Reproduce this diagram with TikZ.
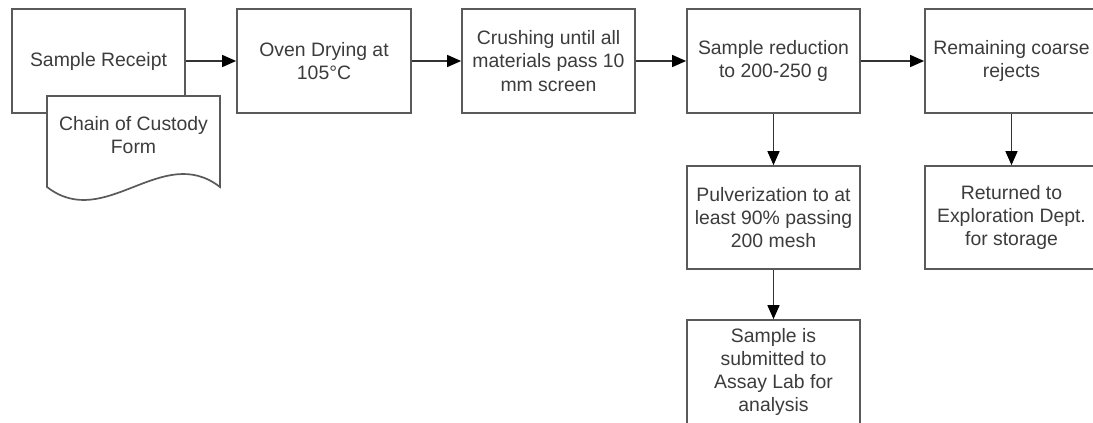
\documentclass[tikz,border=0pt]{standalone}
\usepackage{fontspec}
\setmainfont{Liberation Sans}
\usetikzlibrary{arrows.meta}
\definecolor{linec}{HTML}{5A5A5A}
\definecolor{connc}{HTML}{333333}
\definecolor{textc}{HTML}{3C3C3C}
\tikzset{
  procbox/.style={draw=linec, line width=1.7pt, fill=white, rectangle, inner sep=0pt,
    minimum width=173pt, minimum height=104pt, align=center, text=textc,
    font=\fontsize{19.4}{23.3}\selectfont},
  conn/.style={draw=connc, line width=1.5pt, -{Triangle[length=14pt,width=12pt,color=black]}},
  docshape/.style={draw=linec, line width=1.7pt, fill=white},
  doctext/.style={align=center, text=textc, inner sep=0pt, font=\fontsize{19.4}{23.3}\selectfont}
}
\begin{document}
\begin{tikzpicture}[x=1pt,y=-1pt]
\useasboundingbox (0,0) rectangle (1093,423);
\clip (0,0) rectangle (1093,423);
\node[procbox] (receipt) at (98.5,61) {Sample Receipt};
\node[procbox, minimum width=174pt] (oven) at (324,61) {Oven Drying at\\105°C};
\node[procbox] (crush) at (548.5,61) {Crushing until all\\materials pass 10\\mm screen};
\node[procbox] (reduce) at (773.5,61) {Sample reduction\\to 200-250 g};
\node[procbox] (remain) at (1011.5,61) {Remaining coarse\\rejects};
\node[procbox, minimum height=103pt] (pulv) at (773.5,217.5) {Pulverization to at\\least 90\% passing\\200 mesh};
\node[procbox, minimum height=103pt] (returned) at (1011.5,217.5) {Returned to\\Exploration Dept.\\for storage};
\node[procbox] (submit) at (773.5,372) {Sample is\\submitted to\\Assay Lab for\\analysis};
% document shape
\path[docshape] (47,96) -- (220,96) -- (220,187) .. controls (162,142) and (105,232) .. (47,187) -- cycle;
\node[doctext] (doc) at (133.5,135) {Chain of Custody\\Form};
% connectors
\draw[conn] (receipt.east) -- (oven.west);
\draw[conn] (oven.east) -- (crush.west);
\draw[conn] (crush.east) -- (reduce.west);
\draw[conn] (reduce.east) -- (remain.west);
\draw[conn] (reduce.south) -- (pulv.north);
\draw[conn] (remain.south) -- (returned.north);
\draw[conn] (pulv.south) -- (submit.north);
\end{tikzpicture}
\end{document}
